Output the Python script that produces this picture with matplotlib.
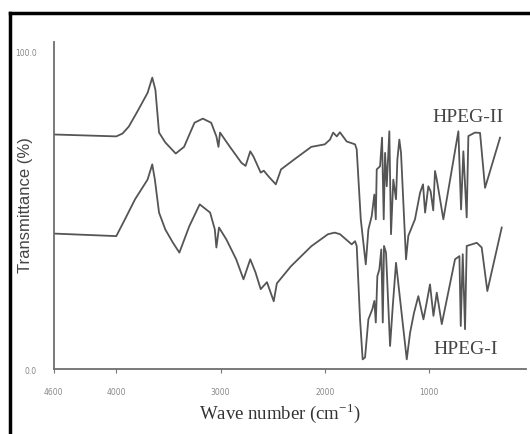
import matplotlib
matplotlib.use("Agg")
import matplotlib.pyplot as plt
from matplotlib.lines import Line2D

plt.rcParams["mathtext.fontset"] = "custom"
plt.rcParams["mathtext.rm"] = "Liberation Serif"

# wavenumber (cm-1) / transmittance (%)
wn_2 = [4600, 4000, 3940, 3880, 3800, 3750, 3700, 3655, 3625, 3590, 3530, 3430,
        3350, 3250, 3170, 3090, 3040, 3020, 3005, 2910, 2800, 2760, 2715, 2685,
        2615, 2585, 2540, 2470, 2420, 2295, 2130, 2000, 1950, 1920, 1885, 1855,
        1790, 1710, 1694, 1655, 1607, 1582, 1550, 1525, 1511, 1502, 1470, 1451,
        1435, 1422, 1406, 1381, 1365, 1343, 1317, 1304, 1285, 1269, 1221, 1199,
        1135, 1086, 1058, 1038, 1007, 985, 960, 943, 926, 863, 719, 693, 671,
        639, 623, 560, 511, 463, 319]
tr_2 = [73.9, 73.3, 74.2, 76.4, 81.0, 84.0, 87.0, 91.8, 88.0, 74.5, 71.4, 67.9,
        70.0, 77.6, 78.9, 77.6, 73.3, 70.0, 74.5, 70.0, 65.0, 64.0, 68.6, 67.0,
        61.9, 62.5, 60.7, 58.2, 62.9, 66.0, 70.0, 70.8, 72.3, 74.5, 73.3, 74.6,
        71.7, 70.8, 69.2, 47.2, 33.0, 44.0, 48.2, 55.0, 47.2, 62.9, 63.9, 72.9,
        47.2, 68.1, 57.6, 74.9, 42.5, 59.7, 53.5, 66.0, 72.3, 68.1, 34.6, 42.0,
        47.2, 55.6, 58.2, 49.3, 57.6, 56.0, 50.0, 62.4, 59.7, 47.2, 74.9, 50.3,
        68.6, 47.8, 73.4, 74.5, 74.4, 57.1, 72.9]

wn_1 = [4600, 4000, 3920, 3820, 3700, 3655, 3630, 3590, 3530, 3460, 3395, 3300,
        3200, 3100, 3055, 3040, 3015, 2945, 2850, 2780, 2715, 2665, 2615, 2555,
        2490, 2460, 2325, 2130, 1970, 1905, 1854, 1742, 1710, 1694, 1662, 1637,
        1614, 1582, 1544, 1525, 1511, 1496, 1477, 1458, 1444, 1432, 1413, 1374,
        1348, 1317, 1214, 1182, 1144, 1103, 1054, 1029, 991, 958, 926, 878, 751,
        709, 696, 677, 655, 639, 542, 495, 441, 303]
tr_1 = [42.7, 41.9, 47.0, 53.5, 59.7, 64.5, 59.7, 49.3, 44.0, 40.0, 36.7, 45.0,
        51.9, 49.3, 44.0, 38.3, 44.6, 40.9, 34.6, 28.3, 34.6, 30.5, 25.2, 27.4,
        21.4, 27.0, 32.4, 38.7, 42.5, 43.0, 42.5, 39.3, 40.3, 38.8, 15.7, 3.1,
        3.7, 15.7, 18.9, 21.5, 14.7, 29.3, 31.4, 37.7, 14.7, 38.8, 36.7, 7.3,
        19.9, 33.5, 3.1, 11.5, 17.8, 23.0, 15.7, 19.9, 26.7, 16.8, 24.1, 14.2,
        34.6, 35.6, 13.6, 36.2, 12.6, 38.8, 39.8, 38.3, 24.6, 44.6]

xticks = [4600, 4000, 3000, 2000, 1000]
yticks = [0, 100]

fig = plt.figure(figsize=(5.3, 4.35), dpi=100)
ax = fig.add_axes([0.1014, 0.149, 0.8905, 0.752])

line_col = "#555555"
ax.plot(wn_2, tr_2, color=line_col, lw=1.3)
ax.plot(wn_1, tr_1, color=line_col, lw=1.3)

ax.set_xlim(4600, 73)
ax.set_ylim(0, 103)

ax.spines["top"].set_visible(False)
ax.spines["right"].set_visible(False)
for s in ["left", "bottom"]:
    ax.spines[s].set_color("#6e6e6e")
    ax.spines[s].set_linewidth(1.3)

ax.set_xticks(xticks)
ax.set_xticklabels([str(t) for t in xticks])
ax.set_yticks(yticks)
ax.set_yticklabels(["%.1f" % t for t in yticks])
ax.tick_params(axis="x", length=3, width=0.8, color="#777777", labelsize=5.5,
               labelcolor="#888888", pad=10)
ax.tick_params(axis="y", length=0, labelsize=5.5, labelcolor="#888888", pad=12)

ax.set_xlabel("Wave number (cm$^{-1}$)", family="Liberation Serif",
              fontsize=13.5, color="#333333")
ax.xaxis.set_label_coords(0.479, -0.095)
ax.set_ylabel("Transmittance (%)", family="Liberation Sans", fontsize=12,
              color="#444444")
ax.yaxis.set_label_coords(-0.045, 0.505)

ax.text(468 / 530, 1 - 117 / 435, "HPEG-II", transform=fig.transFigure,
        ha="center", va="center", family="Liberation Serif", fontsize=14,
        color="#444444")
ax.text(466 / 530, 1 - 350 / 435, "HPEG-I", transform=fig.transFigure,
        ha="center", va="center", family="Liberation Serif", fontsize=14,
        color="#444444")

# black frame (top and left edges visible in the crop)
x0, y0 = 10 / 530, 1 - 14 / 435
fig.add_artist(Line2D([x0, 1.0], [y0, y0], transform=fig.transFigure,
                      color="black", lw=2.5))
fig.add_artist(Line2D([x0, x0], [0.0, y0], transform=fig.transFigure,
                      color="black", lw=2.5))

fig.savefig("out.png", dpi=100)
